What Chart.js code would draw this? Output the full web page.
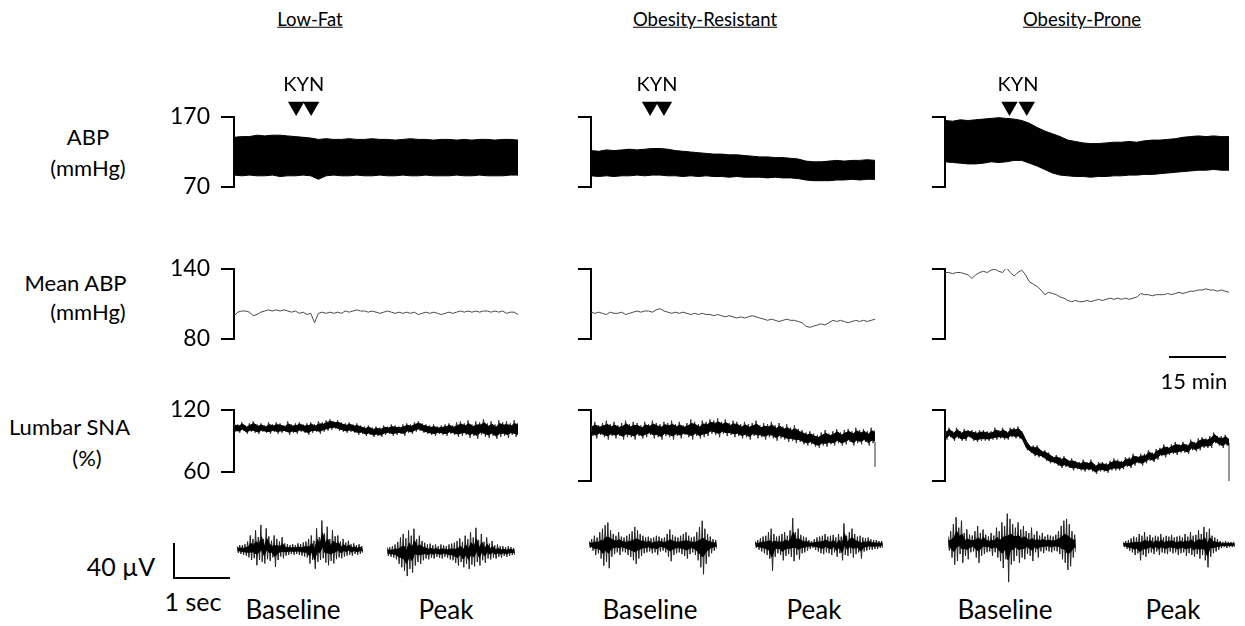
<!DOCTYPE html>
<html><head><meta charset="utf-8">
<script src="https://cdn.jsdelivr.net/npm/chart.js@4.4.0/dist/chart.umd.min.js"></script>
<style>
html,body{margin:0;padding:0;background:#fff;}
#stage{position:relative;width:1245px;height:626px;overflow:hidden;font-family:Lato,"Open Sans",sans-serif;color:#000;}
canvas{position:absolute;}
.t{position:absolute;white-space:nowrap;transform:translate(-50%,-50%);line-height:1;}
.bar{position:absolute;background:#000;}
</style></head><body><div id="stage"></div>
<script>
// ---------------- DATA ----------------
const groups = ["Low-Fat", "Obesity-Resistant", "Obesity-Prone"];
const rowLabels = [["ABP", "(mmHg)"], ["Mean ABP", "(mmHg)"], ["Lumbar SNA", "(%)"]];
const segLabels = ["Baseline", "Peak"];
const abpTicks = [70, 170];
const meanTicks = [80, 140];
const snaTicks = [60, 120];
const SPAN_MIN = 74;           // length of each slow trace, minutes
const envTimes = Array.from({length: 38}, (_, i) => i * 2);   // 2-min sampling
const minTimes = Array.from({length: 75}, (_, i) => i);       // 1-min sampling

// KYN injection times (min)
const kynLF = [16.2, 20.1];
const kynOR = [15.4, 19.0];
const kynOP = [16.8, 21.3];

// ABP envelopes (mmHg), 2-min
const abpUpLF = [141,142,142,144,143,144,144,143,142,141,140,138,139,138,138,139,138,138,139,138,138,137,138,139,138,138,137,138,138,137,138,137,138,138,137,138,138,137];
const abpLoLF = [87,86,87,86,86,87,85,86,86,87,86,81,86,87,86,86,87,86,86,87,86,86,87,86,86,87,86,86,86,87,86,86,87,86,86,86,87,87];
const abpUpOR = [122,121,123,122,123,124,123,124,125,125,124,122,121,120,119,118,117,117,116,116,115,114,113,113,112,112,111,110,107,106,106,107,108,107,108,108,109,108];
const abpLoOR = [86,85,86,85,86,86,87,86,87,87,86,86,85,86,85,86,85,85,84,85,84,84,84,83,84,83,83,82,80,79,79,79,80,80,81,80,81,81];
const abpUpOP = [165,164,166,165,166,167,168,169,168,167,165,161,155,150,146,142,137,135,133,132,132,133,134,134,135,134,136,137,137,138,139,141,142,143,142,143,142,142];
const abpLoOP = [106,105,104,103,103,104,106,105,106,108,108,104,100,95,90,87,86,85,85,84,85,85,86,86,87,87,88,88,89,90,91,92,93,94,94,95,94,94];

// Mean ABP (mmHg), 1-min
const meanLF = [100,103,104,104,103,100,101,103,104,105,104,105,104,105,104,103,104,102,103,101,102,94,102,103,102,103,102,103,102,104,103,104,105,104,104,103,104,103,102,103,104,103,102,103,102,103,102,103,101,102,103,102,103,102,101,102,103,102,103,104,103,104,103,104,103,104,104,103,104,103,104,102,103,103,101];
const meanOR = [103,102,103,102,101,103,102,102,103,101,102,103,104,103,104,104,103,105,106,104,103,102,103,102,103,102,101,102,101,102,101,101,100,101,100,99,100,99,98,99,98,99,100,99,98,97,96,97,96,95,96,97,96,96,95,94,91,90,91,92,93,92,94,96,95,96,95,94,95,96,95,96,95,96,97];
const meanOP = [137,137,136,137,137,136,135,132,135,137,138,137,139,140,138,137,141,137,134,137,139,135,129,127,125,122,118,120,119,118,116,115,113,112,113,112,112,113,112,113,114,113,114,115,114,115,114,115,114,115,116,119,118,118,117,118,118,118,119,118,119,120,119,120,121,121,122,122,123,122,122,121,122,121,120];

// Lumbar SNA (% of baseline), 1-min: upper and lower excursions of the integrated trace
const snaUpLF = [107,106,108,105,107,109,106,107,105,108,106,108,107,105,109,106,107,108,106,107,108,106,109,108,110,111,109,110,108,107,108,106,107,105,104,105,103,104,103,105,104,106,105,104,106,107,106,108,109,107,106,105,106,104,105,106,107,105,108,109,107,110,106,109,108,111,107,109,106,110,108,109,107,110,108];
const snaLoLF = [99,98,100,97,99,98,97,99,98,97,99,97,98,99,96,98,97,99,98,96,98,99,97,99,100,101,102,100,99,98,99,98,96,97,95,96,94,95,94,96,97,95,96,97,95,98,97,99,100,98,97,96,95,97,96,95,97,96,94,95,96,93,95,92,96,94,93,95,92,94,95,93,96,94,93];
const snaUpOR = [108,110,107,109,111,108,110,107,109,111,108,110,109,107,110,108,111,109,108,110,109,111,108,110,107,109,112,110,108,111,110,112,111,113,110,112,109,111,110,108,110,108,109,111,107,109,108,110,107,109,106,108,105,107,104,103,101,102,100,99,101,103,100,102,104,101,103,104,102,105,103,104,102,105,103];
const snaLoOR = [98,96,99,97,95,98,96,98,95,97,97,95,98,96,97,99,96,97,95,98,97,95,98,96,99,97,95,98,96,97,98,100,99,97,100,98,99,97,98,96,97,95,98,96,97,95,97,96,94,96,95,93,94,92,93,91,90,91,89,88,90,89,91,90,92,90,91,93,90,92,91,93,90,92,91];
const snaUpOP = [103,105,102,105,102,104,103,103,102,103,103,102,102,105,103,105,102,105,105,106,102,95,90,90,90,86,86,84,81,82,80,81,78,79,77,76,78,76,78,74,76,76,75,77,79,78,77,80,80,83,81,83,83,86,84,87,88,91,89,91,93,91,93,91,95,93,96,97,96,98,101,98,98,99,96];
const snaLoOP = [95,97,94,96,94,94,97,94,93,94,94,94,95,95,96,95,95,97,96,96,93,86,84,81,80,80,77,75,75,73,71,72,71,69,70,69,68,69,68,66,68,68,67,69,69,69,70,72,71,73,75,73,75,77,76,78,81,80,82,83,82,84,84,83,86,85,86,88,88,88,92,90,88,90,88];
const snaEndOR = [93, 72];   // end-of-record artefact (%)
const snaEndOP = [92, 60];

// Raw lumbar SNA neurograms (µV): positive and negative excursions per sample
const rawBaseLFHi = [4,5,5,6,9,16,12,22,14,28,12,24,15,10,16,12,9,14,7,6,5,6,5,7,6,8,9,12,16,10,24,14,33,18,26,12,22,15,16,9,12,8,10,6,7,5,6,4];
const rawBaseLFLo = [-4,-5,-6,-7,-9,-12,-10,-18,-12,-14,-16,-11,-13,-9,-20,-12,-8,-10,-7,-6,-5,-6,-5,-6,-7,-8,-9,-16,-12,-22,-14,-12,-10,-15,-18,-13,-16,-11,-9,-10,-8,-7,-6,-7,-5,-6,-5,-4];
const rawPeakLFHi = [5,5,6,8,11,16,20,15,24,18,26,14,18,12,10,8,9,7,8,6,8,7,6,8,9,10,12,15,11,18,14,22,16,27,13,20,11,16,9,12,7,8,6,6,5,6,5,4];
const rawPeakLFLo = [-5,-6,-7,-9,-14,-18,-22,-28,-20,-24,-16,-12,-14,-10,-8,-9,-7,-8,-6,-7,-8,-6,-7,-9,-10,-13,-16,-12,-18,-14,-20,-15,-17,-12,-16,-10,-13,-8,-9,-7,-8,-6,-7,-5,-6,-5,-4,-4];
const rawBaseORHi = [4,6,10,8,14,18,22,25,16,12,10,14,9,8,10,12,15,20,16,12,10,8,9,7,8,10,9,7,8,12,17,11,9,8,10,12,14,10,8,9,14,20,27,18,12,9,6,5];
const rawBaseORLo = [-4,-7,-12,-10,-16,-24,-20,-27,-14,-11,-9,-12,-8,-9,-12,-14,-18,-22,-16,-13,-10,-9,-8,-10,-9,-12,-8,-7,-9,-14,-19,-12,-10,-9,-11,-13,-16,-11,-9,-12,-18,-26,-34,-22,-14,-10,-7,-5];
const rawPeakORHi = [4,5,7,9,10,14,18,12,9,10,12,14,10,16,30,14,18,11,9,8,5,4,6,8,9,10,12,9,10,11,8,12,9,24,10,14,18,12,9,10,8,7,8,6,5,5,4,4];
const rawPeakORLo = [-4,-6,-8,-10,-12,-16,-30,-14,-10,-12,-18,-13,-11,-14,-19,-12,-17,-10,-9,-7,-5,-4,-6,-8,-10,-11,-9,-10,-12,-9,-14,-10,-18,-12,-13,-10,-15,-11,-9,-16,-8,-7,-6,-6,-5,-5,-4,-4];
const rawBaseOPHi = [8,14,22,30,18,26,12,16,10,9,14,20,12,16,10,8,12,9,18,14,24,20,34,28,22,18,24,16,20,14,12,18,10,14,9,12,8,10,9,8,10,14,20,26,28,22,14,10];
const rawBaseOPLo = [-8,-16,-24,-20,-12,-22,-14,-18,-10,-9,-16,-22,-14,-12,-10,-9,-14,-10,-16,-20,-28,-18,-44,-24,-20,-14,-22,-16,-18,-12,-14,-20,-10,-16,-9,-11,-8,-9,-10,-8,-9,-12,-18,-22,-30,-26,-16,-10];
const rawPeakOPHi = [3,4,5,7,9,8,12,10,14,9,11,8,10,9,12,8,10,9,11,8,9,10,8,12,9,14,10,11,16,12,20,14,18,10,8,6,4,3,4,3,3,3];
const rawPeakOPLo = [-3,-5,-7,-9,-12,-10,-18,-12,-14,-10,-9,-11,-8,-12,-9,-10,-11,-8,-10,-9,-12,-10,-9,-13,-10,-12,-14,-11,-16,-12,-18,-26,-14,-10,-8,-6,-4,-3,-4,-3,-3,-3];
const rawRange = [-45, 45];

// ---------------- RENDER ----------------
const FONT = 'Lato, "Open Sans", sans-serif';
Chart.defaults.font.family = FONT;
Chart.defaults.animation = false;
Chart.defaults.events = [];
Chart.defaults.plugins.legend.display = false;
Chart.defaults.plugins.tooltip.enabled = false;

const stage = document.getElementById('stage');
function mkCanvas(left, top, w, h){
  const c = document.createElement('canvas');
  c.width = w; c.height = h;
  c.style.left = left + 'px'; c.style.top = top + 'px';
  c.style.width = w + 'px'; c.style.height = h + 'px';
  stage.appendChild(c);
  return c;
}
function txt(s, x, y, size, extra){
  const d = document.createElement('div');
  d.className = 't'; d.textContent = s;
  d.style.left = x + 'px'; d.style.top = y + 'px'; d.style.fontSize = size + 'px';
  if (extra) Object.assign(d.style, extra);
  stage.appendChild(d);
}
function rect(x, y, w, h){
  const d = document.createElement('div');
  d.className = 'bar';
  Object.assign(d.style, {left: x + 'px', top: y + 'px', width: w + 'px', height: h + 'px'});
  stage.appendChild(d);
}

// draws the KYN injection arrowheads (at the dataset's point positions) and the label
const kynPlugin = {
  id: 'kynMarks',
  afterDatasetsDraw(chart){
    const ctx = chart.ctx;
    chart.data.datasets.forEach((ds, i) => {
      if (ds.label !== 'KYN') return;
      const pts = chart.getDatasetMeta(i).data;
      const r = 9.5;
      ctx.save();
      ctx.fillStyle = '#000';
      pts.forEach(p => {
        ctx.beginPath();
        ctx.moveTo(p.x - r * 0.866, p.y - r / 2);
        ctx.lineTo(p.x + r * 0.866, p.y - r / 2);
        ctx.lineTo(p.x, p.y + r);
        ctx.closePath();
        ctx.fill();
      });
      const x = (pts[0].x + pts[pts.length - 1].x) / 2;
      const y = Math.min(...pts.map(p => p.y)) - 22;
      ctx.font = '20px ' + FONT;
      ctx.textAlign = 'center'; ctx.textBaseline = 'middle';
      ctx.fillText('KYN', x, y);
      ctx.restore();
    });
  }
};

function band(times, up, lo, fillCol, edgeCol){
  return [
    {data: times.map((t, i) => ({x: t, y: up[i]})), borderColor: edgeCol, backgroundColor: fillCol,
     borderWidth: 1, pointRadius: 0, fill: '+1', tension: 0},
    {data: times.map((t, i) => ({x: t, y: lo[i]})), borderColor: edgeCol, backgroundColor: fillCol,
     borderWidth: 1, pointRadius: 0, fill: false, tension: 0}
  ];
}
// dense core of a noisy trace: central fraction of each sample's excursion range
function core(times, up, lo, frac, step){
  const c = up.map((u, i) => (u + lo[i]) / 2);
  const h = up.map((u, i) => (u - lo[i]) / 2 * frac);
  const tt = times.map(t => t + step / 4);
  return band(tt, c.map((v, i) => v + h[i]), c.map((v, i) => v - h[i]), '#000', '#000');
}
// oscillating trace: alternate between the upper and the lower excursion of each sample
function zigzag(times, up, lo, step, col, w){
  const pts = [];
  times.forEach((t, i) => { pts.push({x: t, y: up[i]}); pts.push({x: t + step / 2, y: lo[i]}); });
  return {data: pts, borderColor: col, borderWidth: w, pointRadius: 0, fill: false, tension: 0};
}
function line(times, vals, col, w){
  return {data: times.map((t, i) => ({x: t, y: vals[i]})), borderColor: col, borderWidth: w,
          pointRadius: 0, fill: false, tension: 0};
}
function endArtefact(vals){
  return {data: vals.map(v => ({x: SPAN_MIN, y: v})), borderColor: '#888', borderWidth: 1,
          pointRadius: 0, fill: false, clip: false};
}
function kynSet(times, ticks, h){
  const off = 10.5 * (ticks[1] - ticks[0]) / h;   // arrowheads sit just above the top of the scale
  return {label: 'KYN', data: times.map(t => ({x: t, y: ticks[1] + off})), showLine: false,
          pointRadius: 0, clip: false};
}

function traceChart(o){
  const padR = 3;
  const c = mkCanvas(o.left - o.axisW, o.top - o.padT, o.axisW + o.w + padR, o.padT + o.h + o.padB);
  return new Chart(c, {
    type: 'line',
    data: {datasets: o.datasets},
    options: {
      responsive: false, devicePixelRatio: 1,
      layout: {padding: {left: 0, right: padR, top: o.padT, bottom: o.padB}},
      scales: {
        x: {type: 'linear', display: false, min: 0, max: SPAN_MIN},
        y: {type: 'linear', min: o.ticks[0], max: o.ticks[1], position: 'left',
            afterFit(s){ s.width = o.axisW; },
            afterBuildTicks(s){ s.ticks = o.ticks.map(v => ({value: v})); },
            grid: {drawOnChartArea: false, drawTicks: true, tickLength: 13, color: '#000', lineWidth: 2},
            border: {display: true, color: '#000', width: 2},
            ticks: {display: o.labels, color: '#000', font: {size: 23}, padding: 11}}
      }
    },
    plugins: [kynPlugin]
  });
}

function rawChart(left, centerY, w, hi, lo){
  const h = 79;
  const c = mkCanvas(left, Math.round(centerY - h / 2), w, h);
  const idx = hi.map((_, i) => i);
  return new Chart(c, {
    type: 'line',
    data: {datasets: [...core(idx, hi, lo, 0.35, 1), zigzag(idx, hi, lo, 1, '#222', 1)]},
    options: {
      responsive: false, devicePixelRatio: 1,
      layout: {padding: 0},
      scales: {x: {type: 'linear', display: false, min: 0, max: hi.length - 0.5},
               y: {display: false, min: rawRange[0], max: rawRange[1]}}
    }
  });
}

// column layout (chart-area left edge = bracket position)
const cols = [
  {left: 234, axisW: 90, labels: true,  kyn: kynLF, abp: [abpUpLF, abpLoLF], mean: meanLF, sna: [snaUpLF, snaLoLF], snaH: 62, end: null},
  {left: 591, axisW: 20, labels: false, kyn: kynOR, abp: [abpUpOR, abpLoOR], mean: meanOR, sna: [snaUpOR, snaLoOR], snaH: 71, end: snaEndOR},
  {left: 945, axisW: 20, labels: false, kyn: kynOP, abp: [abpUpOP, abpLoOP], mean: meanOP, sna: [snaUpOP, snaLoOP], snaH: 71, end: snaEndOP}
];
const PLOT_W = 284;

cols.forEach(col => {
  traceChart({left: col.left, top: 117, w: PLOT_W, h: 70, axisW: col.axisW, padT: 46, padB: 32,
    ticks: abpTicks, labels: col.labels,
    datasets: [...band(envTimes, col.abp[0], col.abp[1], '#000', '#000'), kynSet(col.kyn, abpTicks, 70)]});
  traceChart({left: col.left, top: 269, w: PLOT_W, h: 70, axisW: col.axisW, padT: 32, padB: 32,
    ticks: meanTicks, labels: col.labels,
    datasets: [line(minTimes, col.mean, '#4a4a4a', 1)]});
  const ds = [...core(minTimes, col.sna[0], col.sna[1], 0.6, 1), zigzag(minTimes, col.sna[0], col.sna[1], 1, '#333', 1)];
  if (col.end) ds.push(endArtefact(col.end));
  traceChart({left: col.left, top: 410, w: PLOT_W, h: col.snaH, axisW: col.axisW, padT: 32, padB: 32,
    ticks: snaTicks, labels: col.labels, datasets: ds});
});

// raw neurograms
rawChart(237, 549, 126, rawBaseLFHi, rawBaseLFLo);
rawChart(387, 551, 128, rawPeakLFHi, rawPeakLFLo);
rawChart(589, 544, 128, rawBaseORHi, rawBaseORLo);
rawChart(755, 544, 128, rawPeakORHi, rawPeakORLo);
rawChart(948, 543, 128, rawBaseOPHi, rawBaseOPLo);
rawChart(1123, 544, 112, rawPeakOPHi, rawPeakOPLo);

// ---------------- TEXT ----------------
txt(groups[0], 310, 19, 18.5, {textDecoration: 'underline'});
txt(groups[1], 705, 19, 18.5, {textDecoration: 'underline'});
txt(groups[2], 1082, 19, 18.5, {textDecoration: 'underline'});

txt(rowLabels[0][0], 88, 137, 22);
txt(rowLabels[0][1], 88, 168, 22);
txt(rowLabels[1][0], 75.5, 283, 22);
txt(rowLabels[1][1], 88, 312, 22);
txt(rowLabels[2][0], 69.5, 427, 22);
txt(rowLabels[2][1], 87, 458, 22);

// 15 min scale bar
rect(1169, 356, 57, 2);
txt('15 min', 1194, 381, 22);

// 40 µV / 1 sec scale bar
rect(173, 543, 2, 36);
rect(173, 577, 57, 2);
txt('40 µV', 121, 566, 25);
txt('1 sec', 193, 601, 25);

txt(segLabels[0], 293, 609, 26); txt(segLabels[1], 446, 609, 26);
txt(segLabels[0], 650, 609, 26); txt(segLabels[1], 814, 609, 26);
txt(segLabels[0], 1005, 609, 26); txt(segLabels[1], 1173, 609, 26);
</script>
</body></html>
